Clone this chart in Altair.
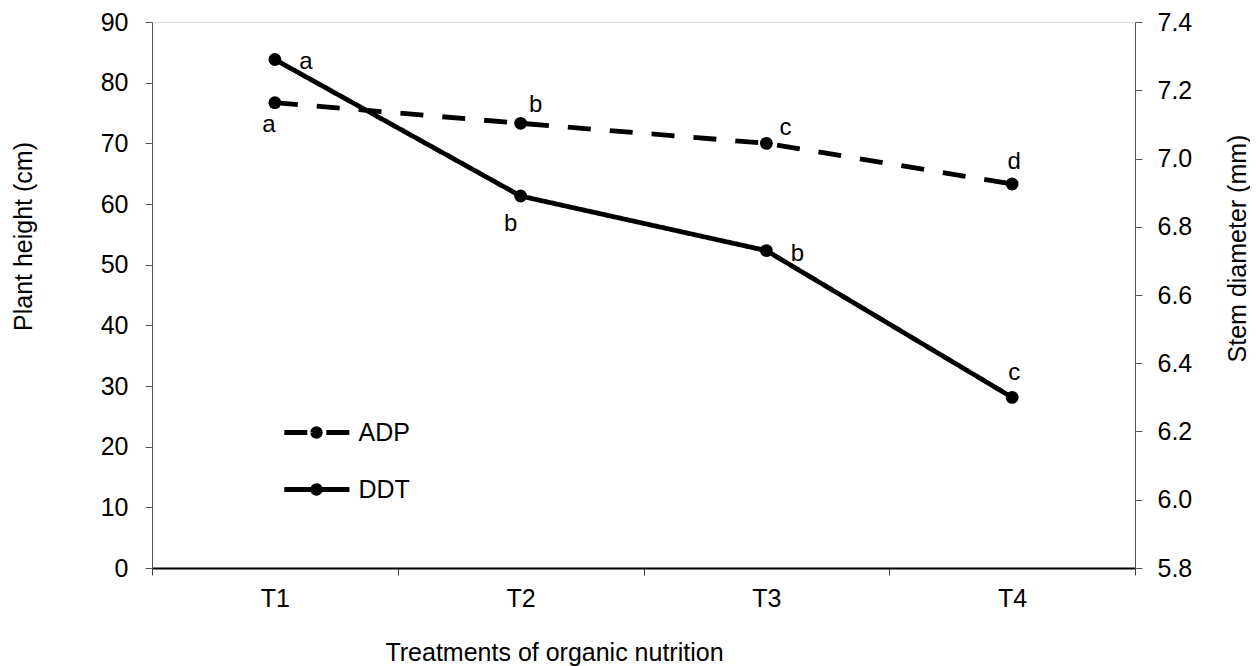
import altair as alt
import pandas as pd

# ---- data ----
treatments = ["T1", "T2", "T3", "T4"]
adp_height = [76.7, 73.3, 70.0, 63.3]          # plant height (cm), left axis
ddt_diameter = [7.29, 6.89, 6.73, 6.30]        # stem diameter (mm), right axis
adp_letters = ["a", "b", "c", "d"]
ddt_letters = ["a", "b", "b", "c"]
series_names = ["ADP", "DDT"]
height_ticks = [0, 10, 20, 30, 40, 50, 60, 70, 80, 90]
diameter_ticks = [5.8, 6.0, 6.2, 6.4, 6.6, 6.8, 7.0, 7.2, 7.4]

adp = pd.DataFrame({"treatment": treatments, "value": adp_height,
                    "letter": adp_letters, "series": "ADP"})
ddt = pd.DataFrame({"treatment": treatments, "value": ddt_diameter,
                    "letter": ddt_letters, "series": "DDT"})

FONT = "Liberation Sans"
W, H = 983, 546
AX_GRAY = "#595959"

# label offsets (style only)
adp_offsets = {"T1": (-6, 22), "T2": (15, -18), "T3": (19, -15), "T4": (2, -22)}
ddt_offsets = {"T1": (31, 2), "T2": (-10, 28), "T3": (31, 3), "T4": (2, -24)}

x_enc = alt.X(
    "treatment:N",
    sort=treatments,
    bandPosition=0.5,
    scale=alt.Scale(type="band", domain=treatments, paddingInner=0, paddingOuter=0),
    axis=alt.Axis(
        title="Treatments of organic nutrition",
        tickBand="extent", labelAngle=0,
        labelFont=FONT, labelFontSize=25, labelColor="black",
        labelBaseline="alphabetic", labelPadding=31,
        tickSize=7, tickColor="#404040", tickWidth=1,
        domainColor="black", domainWidth=2,
        titleFont=FONT, titleFontSize=25, titleFontWeight="normal", titleColor="black",
        titleX=402, titleY=92, titleAlign="center", titleBaseline="alphabetic",
        grid=False,
    ),
)

y_left = alt.Y(
    "value:Q",
    scale=alt.Scale(domain=[0, 90], nice=False, zero=False),
    axis=alt.Axis(
        orient="left", values=height_ticks, title="Plant height (cm)",
        labelFont=FONT, labelFontSize=25, labelColor="black", labelPadding=17,
        tickSize=7, tickColor=AX_GRAY, domainColor=AX_GRAY,
        titleFont=FONT, titleFontSize=25, titleFontWeight="normal", titleColor="black",
        titleAngle=270, titleX=-129, titleY=214, titleAlign="center", titleBaseline="middle",
        grid=False,
    ),
)

y_right = alt.Y(
    "value:Q",
    scale=alt.Scale(domain=[5.8, 7.4], nice=False, zero=False),
    axis=alt.Axis(
        orient="right", values=diameter_ticks, format=".1f", title="Stem diameter (mm)",
        labelFont=FONT, labelFontSize=25, labelColor="black", labelPadding=15,
        tickSize=7, tickColor=AX_GRAY, domainColor=AX_GRAY,
        titleFont=FONT, titleFontSize=25, titleFontWeight="normal", titleColor="black",
        titleAngle=270, titleX=102, titleY=226, titleAlign="center", titleBaseline="middle",
        grid=False,
    ),
)

LEGEND_PATH = ("M-1.95,0L2,0"
               "M-0.23,0A0.23,0.23 0 1,0 0.23,0A0.23,0.23 0 1,0 -0.23,0Z")

dash_enc = alt.StrokeDash(
    "series:N",
    scale=alt.Scale(domain=series_names, range=[[23, 19], [1, 0]]),
    legend=alt.Legend(
        title=None, orient="none", legendX=145.5, legendY=391.5,
        direction="vertical",
        symbolType=LEGEND_PATH, symbolSize=1089, symbolStrokeWidth=4.8,
        symbolFillColor="black", symbolStrokeColor="black",
        labelFont=FONT, labelFontSize=25, labelColor="black",
        labelOffset=23, rowPadding=24, padding=0,
    ),
)


def series_layer(df, y_enc, offsets):
    base = alt.Chart(df)
    line = base.mark_line(color="black", strokeWidth=4.8).encode(
        x=x_enc, y=y_enc, strokeDash=dash_enc)
    pts = base.mark_point(filled=True, shape="circle", size=165, color="black",
                          opacity=1).encode(x=x_enc, y=y_enc)
    texts = []
    for t in treatments:
        dx, dy = offsets[t]
        texts.append(
            base.transform_filter(alt.datum.treatment == t)
            .mark_text(font=FONT, fontSize=24, color="black", dx=dx, dy=dy,
                       align="center", baseline="middle")
            .encode(x=x_enc, y=y_enc, text="letter:N")
        )
    return alt.layer(line, pts, *texts)


chart = (
    alt.layer(series_layer(adp, y_left, adp_offsets),
              series_layer(ddt, y_right, ddt_offsets))
    .resolve_scale(y="independent")
    .properties(
        width=W, height=H,
        autosize=alt.AutoSizeParams(type="none"),
        padding={"left": 144, "top": 14, "right": 115, "bottom": 98},
    )
    .configure_view(stroke=None)
    .configure(background="white")
)

chart.save("out.html", embed_options={"renderer": "svg", "actions": False})
